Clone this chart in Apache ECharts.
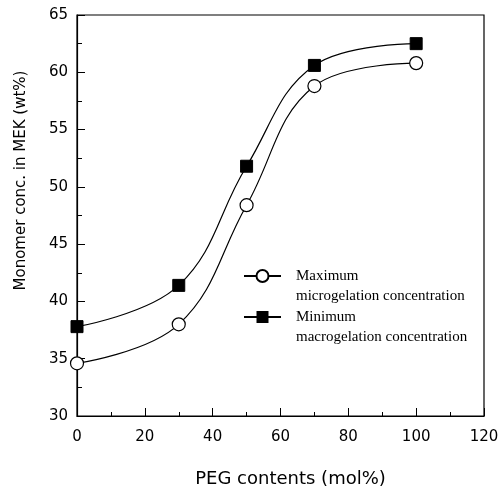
<!DOCTYPE html>
<html>
<head>
<meta charset="utf-8">
<script src="https://cdn.jsdelivr.net/npm/echarts@6/dist/echarts.min.js"></script>
<style>
    html, body { margin: 0; padding: 0; background: #fff; }
    #main { width: 502px; height: 492px; }
</style>
</head>
<body>
<div id="main"></div>
<script>
// PEG contents (mol%)
const pegContents = [0, 30, 50, 70, 100];
// monomer conc. (wt%)
const maxMicrogel = [34.6, 38.0, 48.4, 58.8, 60.8];
const minMacrogel = [37.8, 41.4, 51.8, 60.6, 62.5];
const seriesNames = ['Maximum microgelation concentration', 'Minimum macrogelation concentration'];

const toPairs = (xs, ys) => xs.map((x, i) => [x, ys[i]]);

const chart = echarts.init(document.getElementById('main'));

const sans = 'DejaVu Sans, Liberation Sans, sans-serif';
const tickFont = { color: '#000', fontSize: 15, fontFamily: sans };

const options = {
    animation: false,
    backgroundColor: '#fff',
    grid: {
        left: 77,
        right: 18,
        top: 15,
        bottom: 76,
        outerBoundsMode: 'none',
        show: true,
        borderColor: '#000',
        borderWidth: 1.2
    },
    legend: {
        orient: 'vertical',
        left: 243,
        top: 246,
        padding: 0,
        itemWidth: 37,
        itemHeight: 15,
        itemGap: -19,
        // blank first line keeps the icon level with the first text line
        formatter: (name) => ' \n' + name.replace(' ', '\n'),
        textStyle: {
            color: '#000',
            fontSize: 15,
            fontFamily: 'Liberation Serif, Times New Roman, serif',
            lineHeight: 20,
            padding: [0, 0, 0, 10]
        },
        data: seriesNames
    },
    xAxis: {
        type: 'value',
        min: 0,
        max: 120,
        interval: 20,
        name: 'PEG contents (mol%)',
        nameLocation: 'middle',
        nameGap: 54,
        nameTextStyle: { color: '#000', fontSize: 18, fontFamily: sans, padding: [0, 0, 0, 20] },
        axisLine: { lineStyle: { color: '#000', width: 1.2 } },
        axisTick: { inside: true, length: 8, lineStyle: { color: '#000' } },
        minorTick: { show: true, splitNumber: 2, length: 4, lineStyle: { color: '#000' } },
        axisLabel: Object.assign({ margin: 14 }, tickFont),
        splitLine: { show: false }
    },
    yAxis: {
        type: 'value',
        min: 30,
        max: 65,
        interval: 5,
        name: 'Monomer conc. in MEK (wt%)',
        nameLocation: 'middle',
        nameGap: 48,
        nameTextStyle: { color: '#000', fontSize: 15, fontFamily: sans, padding: [0, 0, 0, 70] },
        axisLine: { show: true, lineStyle: { color: '#000', width: 1.2 } },
        axisTick: { show: true, inside: true, length: 8, lineStyle: { color: '#000' } },
        minorTick: { show: true, splitNumber: 2, length: 5, lineStyle: { color: '#000' } },
        axisLabel: Object.assign({ margin: 9 }, tickFont),
        splitLine: { show: false }
    },
    series: [
        {
            name: seriesNames[0],
            type: 'line',
            smooth: 0.4,
            data: toPairs(pegContents, maxMicrogel),
            symbol: 'circle',
            symbolSize: 13,
            lineStyle: { color: '#000', width: 1.2 },
            itemStyle: { color: '#fff', borderColor: '#000', borderWidth: 1.2 }
        },
        {
            name: seriesNames[1],
            type: 'line',
            smooth: 0.4,
            data: toPairs(pegContents, minMacrogel),
            symbol: 'rect',
            symbolSize: 12,
            lineStyle: { color: '#000', width: 1.2 },
            itemStyle: { color: '#000', borderColor: '#000' }
        }
    ]
};

chart.setOption(options);
</script>
</body>
</html>
